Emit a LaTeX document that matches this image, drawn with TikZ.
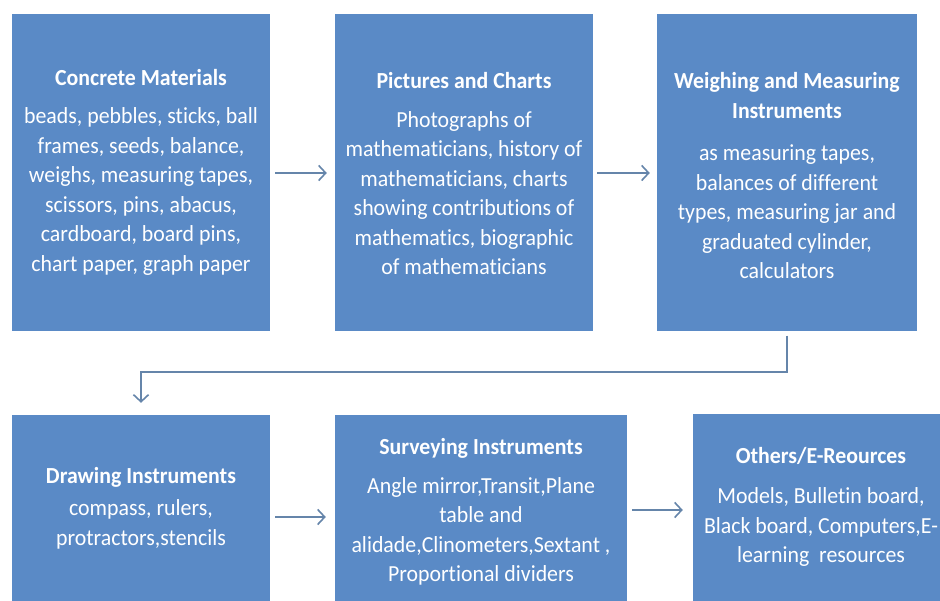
\documentclass[tikz,border=0pt]{standalone}
\usepackage{fontspec}
\setmainfont[FakeStretch=0.95,Ligatures=NoCommon]{Carlito}
\usetikzlibrary{arrows.meta}
\definecolor{boxblue}{HTML}{5A8AC6}
\definecolor{linecol}{HTML}{6585AA}
\begin{document}
\begin{tikzpicture}[x=1pt,y=-1pt,
  box/.style={fill=boxblue, draw=none, inner sep=0pt},
  txt/.style={text=white, align=center, inner sep=0pt, font=\fontsize{23}{29.5}\selectfont},
  arr/.style={draw=linecol, line width=1.8pt, -{Straight Barb[length=7pt,width=15pt,line width=1.6pt]}}]
\useasboundingbox (0,0) rectangle (940,601);
\clip (0,0) rectangle (940,601);
\fill[white] (0,0) rectangle (940,601);
% boxes
\node[box, minimum width=258pt, minimum height=317pt] (b1) at (141,173) {};
\node[box, minimum width=258pt, minimum height=317pt] (b2) at (464,173) {};
\node[box, minimum width=260pt, minimum height=317pt] (b3) at (787,173) {};
\node[box, minimum width=258pt, minimum height=204pt] (b4) at (141,517) {};
\node[box, minimum width=292pt, minimum height=190pt] (b5) at (481,510) {};
\node[box, minimum width=256pt, minimum height=192pt] (b6) at (821,510) {};
% texts
\node[txt] (t1) at (141,172) {\textbf{Concrete Materials}\\[9pt]
beads, pebbles, sticks, ball\\ frames, seeds, balance,\\ weighs, measuring tapes,\\
scissors, pins, abacus,\\ cardboard, board pins,\\ chart paper, graph paper};
\node[txt] (t2) at (464,174) {\textbf{Pictures and Charts}\\[9pt]
Photographs of\\ mathematicians, history of\\ mathematicians, charts\\
showing contributions of\\ mathematics, biographic\\ of mathematicians};
\node[txt] (t3) at (787,176) {\textbf{Weighing and Measuring}\\ \textbf{Instruments}\\[13pt]
as measuring tapes,\\ balances of different\\ types, measuring jar and\\
graduated cylinder,\\ calculators};
\node[txt] (t4) at (141,508) {\textbf{Drawing Instruments}\\[3pt]
compass, rulers,\\ protractors,stencils};
\node[txt] (t5) at (481,512) {\textbf{Surveying Instruments}\\[9pt]
Angle mirror,Transit,Plane\\ table and\\ alidade,Clinometers,Sextant ,\\ Proportional dividers};
\node[txt] (t6) at (821,507) {\textbf{Others/E-Reources}\\[11pt]
Models, Bulletin board,\\ Black board, Computers,E-\\ learning\ \ resources};
% connectors
\coordinate (turn) at (0,372);
\draw[arr, shorten <=5pt, shorten >=8pt] (b1.east) -- (b1.east -| b2.west);
\draw[arr, shorten <=4pt, shorten >=7pt] (b2.east) -- (b2.east -| b3.west);
\draw[arr, shorten <=4pt, shorten >=12pt] (b3.south) -- (b3.south |- turn) -| (b4.north);
\draw[arr, shorten <=5pt, shorten >=9pt] (b4.east) -- (b4.east -| b5.west);
\draw[arr, shorten <=5pt, shorten >=10pt] (b5.east) -- (b5.east -| b6.west);
\end{tikzpicture}
\end{document}
